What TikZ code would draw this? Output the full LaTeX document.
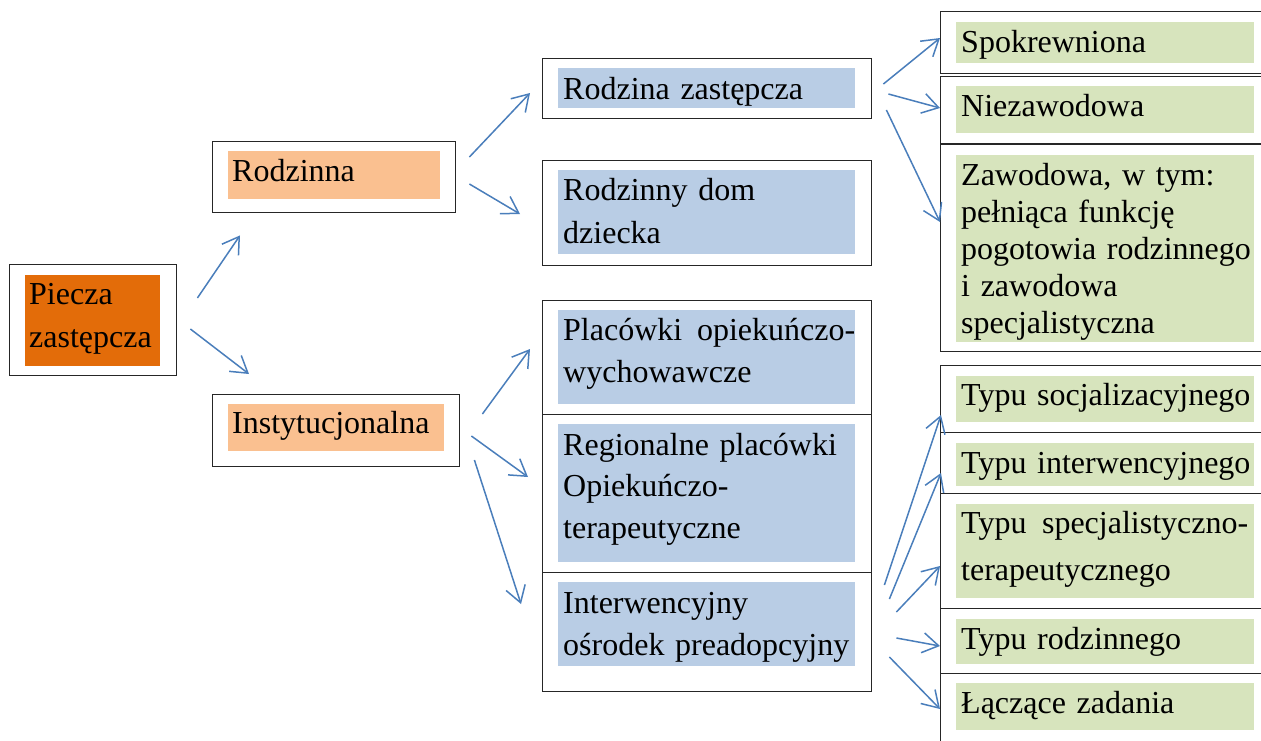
\documentclass[tikz,border=0pt]{standalone}
\usepackage{fontspec}
\setmainfont{Liberation Serif}
\usetikzlibrary{arrows.meta}
\definecolor{cOrange}{RGB}{227,108,9}
\definecolor{cPeach}{RGB}{250,192,144}
\definecolor{cBlue}{RGB}{185,205,229}
\definecolor{cGreen}{RGB}{215,228,189}
\definecolor{cArrow}{RGB}{74,126,187}
\tikzset{
  outerbox/.style={draw=black!85, line width=1.4pt, fill=white, inner sep=0pt, anchor=north west},
  fillbox/.style={inner sep=0pt, anchor=north west, draw=none},
  label/.style={inner sep=0pt, anchor=base west, align=left, font=\fontsize{32}{42}\selectfont},
  arr/.style={draw=cArrow, line width=1.5pt, -{Straight Barb[length=16pt,width=20pt,line width=1.5pt]}}
}
\begin{document}
\begin{tikzpicture}[x=1pt,y=-1pt]
\path[use as bounding box, clip] (0,0) rectangle (1261,740);
% ---------- outer boxes ----------
\node[outerbox, minimum width=167pt, minimum height=111pt] (piecza) at (9,264) {};
\node[outerbox, minimum width=243pt, minimum height=71pt] (rodzinna) at (212,141) {};
\node[outerbox, minimum width=247pt, minimum height=72pt] (instyt) at (212,394) {};
\node[outerbox, minimum width=329pt, minimum height=60pt] (rz) at (542,58) {};
\node[outerbox, minimum width=329pt, minimum height=105pt] (rdd) at (542,160) {};
\node[outerbox, minimum width=329pt, minimum height=114pt] (plac) at (542,300) {};
\node[outerbox, minimum width=329pt, minimum height=158pt] (reg) at (542,414) {};
\node[outerbox, minimum width=329pt, minimum height=119pt] (inter) at (542,572) {};
\node[outerbox, minimum width=335pt, minimum height=62pt] (spokr) at (940,11) {};
\node[outerbox, minimum width=335pt, minimum height=67pt] (niez) at (940,76) {};
\node[outerbox, minimum width=335pt, minimum height=207pt] (zaw) at (940,144) {};
\node[outerbox, minimum width=335pt, minimum height=67pt] (soc) at (940,365) {};
\node[outerbox, minimum width=335pt, minimum height=61pt] (intw) at (940,432) {};
\node[outerbox, minimum width=335pt, minimum height=115pt] (spec) at (940,493) {};
\node[outerbox, minimum width=335pt, minimum height=65pt] (rodzt) at (940,608) {};
\node[outerbox, minimum width=335pt, minimum height=90pt] (lacz) at (940,673) {};
% ---------- inner fills ----------
\node[fillbox, fill=cOrange, minimum width=135pt, minimum height=91pt] (pieczaF) at (25,275) {};
\node[fillbox, fill=cPeach, minimum width=212pt, minimum height=48pt] (rodzinnaF) at (228,151) {};
\node[fillbox, fill=cPeach, minimum width=216pt, minimum height=47pt] (instytF) at (228,404) {};
\node[fillbox, fill=cBlue, minimum width=297pt, minimum height=40pt] (rzF) at (558,68) {};
\node[fillbox, fill=cBlue, minimum width=297pt, minimum height=84pt] (rddF) at (558,170) {};
\node[fillbox, fill=cBlue, minimum width=297pt, minimum height=94pt] (placF) at (558,310) {};
\node[fillbox, fill=cBlue, minimum width=297pt, minimum height=138pt] (regF) at (558,424) {};
\node[fillbox, fill=cBlue, minimum width=297pt, minimum height=84pt] (interF) at (558,582) {};
\node[fillbox, fill=cGreen, minimum width=298pt, minimum height=41pt] (spokrF) at (956,22) {};
\node[fillbox, fill=cGreen, minimum width=298pt, minimum height=47pt] (niezF) at (956,86) {};
\node[fillbox, fill=cGreen, minimum width=298pt, minimum height=187pt] (zawF) at (956,155) {};
\node[fillbox, fill=cGreen, minimum width=298pt, minimum height=46pt] (socF) at (956,376) {};
\node[fillbox, fill=cGreen, minimum width=298pt, minimum height=43pt] (intwF) at (956,443) {};
\node[fillbox, fill=cGreen, minimum width=298pt, minimum height=94pt] (specF) at (956,504) {};
\node[fillbox, fill=cGreen, minimum width=298pt, minimum height=45pt] (rodztF) at (956,619) {};
\node[fillbox, fill=cGreen, minimum width=298pt, minimum height=47pt] (laczF) at (956,683) {};
% ---------- texts ----------
\node[label, text width=130pt, font=\fontsize{32}{43}\selectfont] (pieczaT) at ([shift={(4,29)}]pieczaF.north west) {Piecza\\zastępcza};
\node[label, text width=205pt] (rodzinnaT) at ([shift={(4,30)}]rodzinnaF.north west) {Rodzinna};
\node[label, text width=210pt] (instytT) at ([shift={(4,29)}]instytF.north west) {Instytucjonalna};
\node[label, text width=292pt] (rzT) at ([shift={(5,31)}]rzF.north west) {Rodzina zastępcza};
\node[label, text width=292pt, font=\fontsize{32}{43}\selectfont] (rddT) at ([shift={(5,30)}]rddF.north west) {Rodzinny dom\\dziecka};
\node[label, text width=292pt] (placT) at ([shift={(5,30)}]placF.north west) {Placówki\hfill opiekuńczo-\\wychowawcze};
\node[label, text width=292pt, font=\fontsize{32}{41.5}\selectfont] (regT) at ([shift={(5,31)}]regF.north west) {Regionalne placówki\\Opiekuńczo-\\terapeutyczne};
\node[label, text width=292pt] (interT) at ([shift={(5,31)}]interF.north west) {Interwencyjny\\ośrodek preadopcyjny};
\node[label, text width=295pt] (spokrT) at ([shift={(5,30)}]spokrF.north west) {Spokrewniona};
\node[label, text width=295pt] (niezT) at ([shift={(5,30)}]niezF.north west) {Niezawodowa};
\node[label, text width=295pt, font=\fontsize{32}{37}\selectfont] (zawT) at ([shift={(5,30)}]zawF.north west) {Zawodowa, w tym:\\pełniąca funkcję\\pogotowia rodzinnego\\i zawodowa\\specjalistyczna};
\node[label, text width=295pt] (socT) at ([shift={(5,29)}]socF.north west) {Typu socjalizacyjnego};
\node[label, text width=295pt] (intwT) at ([shift={(5,30)}]intwF.north west) {Typu interwencyjnego};
\node[label, text width=287pt, font=\fontsize{32}{47}\selectfont] (specT) at ([shift={(5,29)}]specF.north west) {Typu\hfill specjalistyczno-\\terapeutycznego};
\node[label, text width=295pt] (rodztT) at ([shift={(5,30)}]rodztF.north west) {Typu rodzinnego};
\node[label, text width=295pt] (laczT) at ([shift={(5,30)}]laczF.north west) {Łączące zadania};
% ---------- connectors ----------
\draw[arr] ([shift={(20,34)}]piecza.north east) -- ([shift={(28,22)}]rodzinna.south west);
\draw[arr] ([shift={(13,65)}]piecza.north east) -- ([shift={(37,-20)}]instyt.north west);
\draw[arr] ([shift={(13,16)}]rodzinna.north east) -- ([shift={(-12,35)}]rz.north west);
\draw[arr] ([shift={(13,43)}]rodzinna.north east) -- ([shift={(-22,54)}]rdd.north west);
\draw[arr] ([shift={(22,20)}]instyt.north east) -- ([shift={(-12,49)}]plac.north west);
\draw[arr] ([shift={(11,42)}]instyt.north east) -- ([shift={(-14,63)}]reg.north west);
\draw[arr] ([shift={(14,66)}]instyt.north east) -- ([shift={(-21,32)}]inter.north west);
\draw[arr] ([shift={(11,26)}]rz.north east) -- ([shift={(0,27)}]spokr.north west);
\draw[arr] ([shift={(16,36)}]rz.north east) -- ([shift={(0,32)}]niez.north west);
\draw[arr] ([shift={(14,52)}]rz.north east) -- ([shift={(0,78)}]zaw.north west);
\draw[arr] ([shift={(12,13)}]inter.north east) -- ([shift={(1,50)}]soc.north west);
\draw[arr] ([shift={(17,27)}]inter.north east) -- ([shift={(1,41)}]intw.north west);
\draw[arr] ([shift={(24,40)}]inter.north east) -- ([shift={(0,73)}]spec.north west);
\draw[arr] ([shift={(24,66)}]inter.north east) -- ([shift={(0,38)}]rodzt.north west);
\draw[arr] ([shift={(17,85)}]inter.north east) -- ([shift={(0,36)}]lacz.north west);
\end{tikzpicture}
\end{document}
